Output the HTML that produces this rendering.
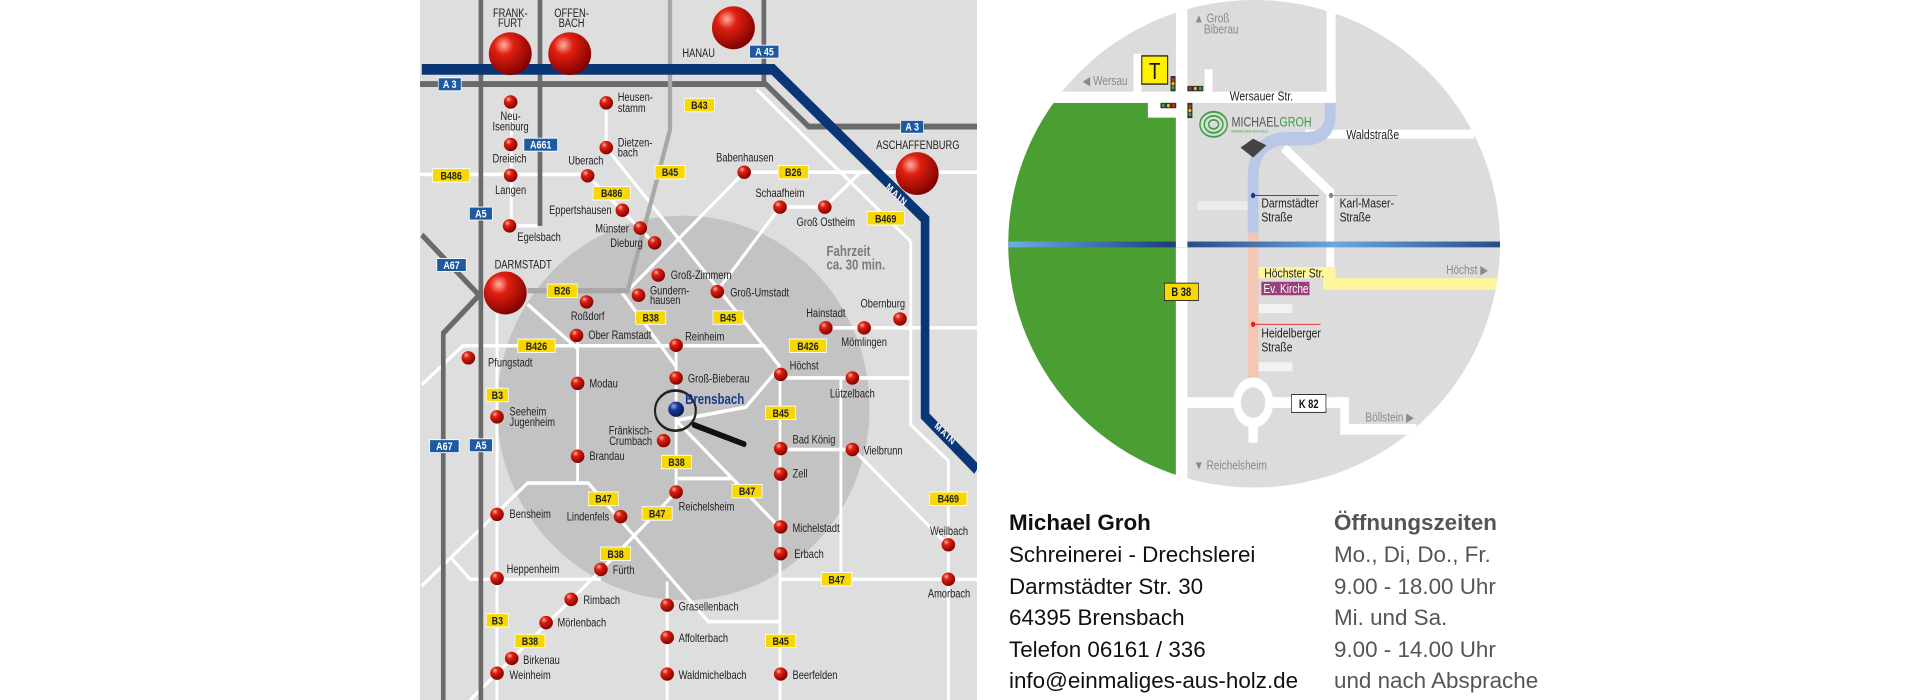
<!DOCTYPE html>
<html><head><meta charset="utf-8"><style>
html,body{margin:0;padding:0;background:#fff;width:1920px;height:700px;overflow:hidden}
.t{position:absolute;font-family:"Liberation Sans",sans-serif;font-size:22.4px;line-height:31.6px;white-space:nowrap}
</style></head><body>
<svg width="1920" height="700" style="position:absolute;left:0;top:0">
<defs>
<radialGradient id="rb" cx="0.35" cy="0.3" r="0.75"><stop offset="0" stop-color="#ffb0a0"/><stop offset="0.3" stop-color="#e02010"/><stop offset="1" stop-color="#7a0000"/></radialGradient>
<radialGradient id="bb" cx="0.35" cy="0.3" r="0.75"><stop offset="0" stop-color="#90a8ff"/><stop offset="0.35" stop-color="#1a3a9a"/><stop offset="1" stop-color="#05154a"/></radialGradient>
<linearGradient id="rv" x1="0" x2="1"><stop offset="0" stop-color="#6fb6e8"/><stop offset="0.3" stop-color="#1f3f80"/><stop offset="0.6" stop-color="#6aa8dc"/><stop offset="1" stop-color="#0c2d6a"/></linearGradient>
<clipPath id="cl"><ellipse cx="708" cy="545" rx="685" ry="545"/></clipPath>
</defs>
<svg x="420" y="0" width="557" height="700" viewBox="0 0 1555 1565" preserveAspectRatio="none" font-family="Liberation Sans, sans-serif">
<rect width="1555" height="1565" fill="#dedede"/>
<ellipse cx="735" cy="912" rx="520" ry="430" fill="#c3c3c3"/>
<g stroke="#fff" stroke-width="8" fill="none">
<path d="M0 390 H470"/><path d="M910 385 H1555"/>
<path d="M255 230 V505 H330"/><path d="M520 230 V330 L1005 820"/>
<path d="M468 393 L655 545"/>
<path d="M905 385 L580 650"/><path d="M1005 463 H1130 L1230 385"/><path d="M1005 463 L830 650"/>
<path d="M5 860 L120 773 H960 L1005 820"/><path d="M1130 733 H1555"/>
<path d="M440 750 V1080"/><path d="M715 770 V1100"/><path d="M560 650 L715 820"/>
<path d="M1005 820 V1565"/><path d="M215 700 V1565"/>
<path d="M1005 845 H1370"/><path d="M1370 540 V950 L1475 1030 V1565"/>
<path d="M1175 845 V1295"/><path d="M1005 1295 H1555"/>
<path d="M1005 1005 H1210 L1475 1220"/>
<path d="M300 680 L440 780"/><path d="M715 940 L1005 1180"/><path d="M720 1070 H870"/>
<path d="M715 1100 L505 1275 L140 1565"/>
<path d="M5 1310 L300 1080 H470 L805 1390 H1005"/>
<path d="M90 1250 L140 1295 H505"/><path d="M690 1300 V1565"/>
<path d="M715 940 L910 910 L1005 820"/><path d="M940 200 L1370 540"/>
</g>
<g stroke="#6a6a6a" stroke-width="13" fill="none">
<path d="M170 0 V1565"/><path d="M335 0 V505"/>
<path d="M5 525 L165 660 L65 745 V1565"/>
<path d="M0 188 H965 L1085 283 H1555"/><path d="M960 0 V188"/>
</g>
<g stroke="#a8a8a8" stroke-width="12" fill="none"><path d="M698 0 V290 L580 650 H300"/></g>
<path d="M5 155 H985 L1410 490 V930 L1555 1050" stroke="#0b3676" stroke-width="24" fill="none"/>
<g fill="#fff" font-size="22" font-weight="bold" letter-spacing="3"><text transform="translate(1300 420) rotate(38)">MAIN</text><text transform="translate(1435 955) rotate(38)">MAIN</text></g>
<g fill="url(#rb)">
<ellipse cx="252" cy="120" rx="60" ry="48"/><ellipse cx="418" cy="120" rx="60" ry="48"/><ellipse cx="875" cy="62" rx="60" ry="48"/><ellipse cx="1388" cy="388" rx="60" ry="48"/><ellipse cx="238" cy="655" rx="60" ry="48"/>
</g>
<g fill="url(#rb)">
<ellipse cx="253" cy="228" rx="19" ry="15"/><ellipse cx="253" cy="323" rx="19" ry="15"/><ellipse cx="253" cy="392" rx="19" ry="15"/><ellipse cx="250" cy="505" rx="19" ry="15"/><ellipse cx="520" cy="230" rx="19" ry="15"/><ellipse cx="520" cy="330" rx="19" ry="15"/><ellipse cx="468" cy="393" rx="19" ry="15"/><ellipse cx="565" cy="470" rx="19" ry="15"/><ellipse cx="615" cy="510" rx="19" ry="15"/><ellipse cx="655" cy="543" rx="19" ry="15"/><ellipse cx="905" cy="385" rx="19" ry="15"/><ellipse cx="1005" cy="463" rx="19" ry="15"/><ellipse cx="1130" cy="463" rx="19" ry="15"/><ellipse cx="665" cy="615" rx="19" ry="15"/><ellipse cx="610" cy="660" rx="19" ry="15"/><ellipse cx="830" cy="652" rx="19" ry="15"/><ellipse cx="465" cy="675" rx="19" ry="15"/><ellipse cx="437" cy="750" rx="19" ry="15"/><ellipse cx="715" cy="772" rx="19" ry="15"/><ellipse cx="1133" cy="733" rx="19" ry="15"/><ellipse cx="1240" cy="733" rx="19" ry="15"/><ellipse cx="1340" cy="713" rx="19" ry="15"/><ellipse cx="135" cy="800" rx="19" ry="15"/><ellipse cx="1007" cy="837" rx="19" ry="15"/><ellipse cx="1207" cy="845" rx="19" ry="15"/><ellipse cx="440" cy="857" rx="19" ry="15"/><ellipse cx="715" cy="845" rx="19" ry="15"/><ellipse cx="215" cy="932" rx="19" ry="15"/><ellipse cx="680" cy="985" rx="19" ry="15"/><ellipse cx="440" cy="1020" rx="19" ry="15"/><ellipse cx="1007" cy="1003" rx="19" ry="15"/><ellipse cx="1207" cy="1005" rx="19" ry="15"/><ellipse cx="1007" cy="1060" rx="19" ry="15"/><ellipse cx="715" cy="1100" rx="19" ry="15"/><ellipse cx="215" cy="1150" rx="19" ry="15"/><ellipse cx="560" cy="1155" rx="19" ry="15"/><ellipse cx="1007" cy="1178" rx="19" ry="15"/><ellipse cx="1475" cy="1218" rx="19" ry="15"/><ellipse cx="1007" cy="1238" rx="19" ry="15"/><ellipse cx="215" cy="1293" rx="19" ry="15"/><ellipse cx="505" cy="1273" rx="19" ry="15"/><ellipse cx="1475" cy="1295" rx="19" ry="15"/><ellipse cx="422" cy="1340" rx="19" ry="15"/><ellipse cx="690" cy="1353" rx="19" ry="15"/><ellipse cx="352" cy="1392" rx="19" ry="15"/><ellipse cx="690" cy="1425" rx="19" ry="15"/><ellipse cx="256" cy="1472" rx="19" ry="15"/><ellipse cx="215" cy="1505" rx="19" ry="15"/><ellipse cx="690" cy="1507" rx="19" ry="15"/><ellipse cx="1007" cy="1507" rx="19" ry="15"/>
</g>
<ellipse cx="715" cy="915" rx="22" ry="17" fill="url(#bb)"/>
<ellipse cx="713" cy="918" rx="57" ry="45" fill="none" stroke="#222" stroke-width="6"/>
<line x1="765" y1="950" x2="905" y2="993" stroke="#111" stroke-width="13" stroke-linecap="round"/>
<g font-size="26" fill="#222">
<g text-anchor="middle">
<text x="252" y="38">FRANK-</text><text x="252" y="60">FURT</text><text x="423" y="38">OFFEN-</text><text x="423" y="60">BACH</text>
<text x="778" y="127">HANAU</text><text x="1390" y="333">ASCHAFFENBURG</text><text x="288" y="600">DARMSTADT</text>
<text x="253" y="268">Neu-</text><text x="253" y="292">Isenburg</text><text x="250" y="363">Dreieich</text><text x="253" y="434">Langen</text>
<text x="463" y="368">Uberach</text><text x="907" y="361">Babenhausen</text><text x="1005" y="441">Schaafheim</text><text x="1133" y="505">Groß Ostheim</text>
<text x="468" y="716">Roßdorf</text><text x="1133" y="709">Hainstadt</text><text x="1240" y="774">Mömlingen</text><text x="1292" y="687">Obernburg</text>
<text x="1207" y="889">Lützelbach</text><text x="1477" y="1196">Weilbach</text><text x="1477" y="1336">Amorbach</text>
</g>
<g text-anchor="end"><text x="535" y="478">Eppertshausen</text><text x="583" y="520">Münster</text><text x="622" y="552">Dieburg</text><text x="648" y="971">Fränkisch-</text><text x="648" y="995">Crumbach</text><text x="528" y="1164">Lindenfels</text></g>
<text x="272" y="539">Egelsbach</text><text x="552" y="226">Heusen-</text><text x="552" y="250">stamm</text><text x="552" y="328">Dietzen-</text><text x="552" y="350">bach</text>
<text x="700" y="624">Groß-Zimmern</text><text x="642" y="658">Gundern-</text><text x="642" y="680">hausen</text><text x="866" y="663">Groß-Umstadt</text>
<text x="470" y="758">Ober Ramstadt</text><text x="740" y="761">Reinheim</text><text x="190" y="819">Pfungstadt</text><text x="1032" y="826">Höchst</text>
<text x="473" y="866">Modau</text><text x="748" y="855">Groß-Bieberau</text><text x="250" y="929">Seeheim</text><text x="250" y="953">Jugenheim</text>
<text x="473" y="1028">Brandau</text><text x="1040" y="992">Bad König</text><text x="1238" y="1016">Vielbrunn</text><text x="1040" y="1068">Zell</text>
<text x="722" y="1141">Reichelsheim</text><text x="250" y="1158">Bensheim</text><text x="1040" y="1189">Michelstadt</text><text x="1045" y="1247">Erbach</text>
<text x="242" y="1281">Heppenheim</text><text x="538" y="1283">Fürth</text><text x="456" y="1350">Rimbach</text><text x="722" y="1365">Grasellenbach</text>
<text x="384" y="1401">Mörlenbach</text><text x="722" y="1435">Affolterbach</text><text x="288" y="1484">Birkenau</text><text x="250" y="1518">Weinheim</text>
<text x="722" y="1518">Waldmichelbach</text><text x="1040" y="1518">Beerfelden</text>
</g>
<text x="740" y="903" font-size="32" font-weight="bold" fill="#1a3a8a">Brensbach</text>
<text x="1135" y="572" font-size="32" font-weight="bold" fill="#7a7a7a">Fahrzeit</text><text x="1135" y="602" font-size="32" font-weight="bold" fill="#7a7a7a">ca. 30 min.</text>
<g font-size="25" font-weight="bold" text-anchor="middle">
<g fill="#f7d800" stroke="#fff" stroke-width="2">
<rect x="738" y="220" width="84" height="30"/><rect x="35" y="377" width="104" height="30"/><rect x="483" y="417" width="104" height="30"/><rect x="656" y="370" width="84" height="30"/><rect x="1000" y="370" width="84" height="30"/><rect x="1248" y="473" width="104" height="30"/><rect x="355" y="635" width="84" height="30"/><rect x="602" y="695" width="84" height="30"/><rect x="818" y="695" width="84" height="30"/><rect x="273" y="758" width="104" height="30"/><rect x="1031" y="758" width="104" height="30"/><rect x="185" y="868" width="62" height="30"/><rect x="965" y="908" width="84" height="30"/><rect x="674" y="1018" width="84" height="30"/><rect x="871" y="1083" width="84" height="30"/><rect x="470" y="1100" width="84" height="30"/><rect x="620" y="1133" width="84" height="30"/><rect x="1423" y="1100" width="104" height="30"/><rect x="504" y="1223" width="84" height="30"/><rect x="1121" y="1280" width="84" height="30"/><rect x="185" y="1372" width="62" height="30"/><rect x="265" y="1418" width="84" height="30"/><rect x="965" y="1418" width="84" height="30"/>
</g>
<g fill="#222">
<text x="780" y="244">B43</text><text x="87" y="401">B486</text><text x="535" y="441">B486</text><text x="698" y="394">B45</text><text x="1042" y="394">B26</text><text x="1300" y="497">B469</text><text x="397" y="659">B26</text><text x="644" y="719">B38</text><text x="860" y="719">B45</text><text x="325" y="782">B426</text><text x="1083" y="782">B426</text><text x="216" y="892">B3</text><text x="1007" y="932">B45</text><text x="716" y="1042">B38</text><text x="913" y="1107">B47</text><text x="512" y="1124">B47</text><text x="662" y="1157">B47</text><text x="1475" y="1124">B469</text><text x="546" y="1247">B38</text><text x="1163" y="1304">B47</text><text x="216" y="1396">B3</text><text x="307" y="1442">B38</text><text x="1007" y="1442">B45</text>
</g>
<g fill="#1d5aa0" stroke="#fff" stroke-width="2">
<rect x="51" y="174" width="64" height="29"/><rect x="920" y="101" width="82" height="29"/><rect x="290" y="309" width="94" height="29"/><rect x="138" y="463" width="64" height="29"/><rect x="47" y="578" width="82" height="29"/><rect x="1342" y="269" width="64" height="29"/><rect x="27" y="983" width="82" height="29"/><rect x="138" y="981" width="64" height="29"/>
</g>
<g fill="#fff"><text x="83" y="197">A 3</text><text x="962" y="124">A 45</text><text x="337" y="332">A661</text><text x="170" y="486">A5</text><text x="88" y="601">A67</text><text x="1374" y="292">A 3</text><text x="68" y="1006">A67</text><text x="170" y="1004">A5</text></g>
</g>
</svg>
<svg x="1000" y="0" width="560" height="700" viewBox="0 0 1560 1565" preserveAspectRatio="none" font-family="Liberation Sans, sans-serif">
<g clip-path="url(#cl)">
<rect width="1560" height="1100" fill="#dcdcdc"/>
<rect x="0" y="230" width="490" height="870" fill="#4a9e32"/>
<rect x="490" y="0" width="32" height="1100" fill="#fff"/>
<rect x="150" y="205" width="785" height="25" fill="#fff"/>
<rect x="372" y="120" width="22" height="90" fill="#fff"/><rect x="570" y="155" width="22" height="55" fill="#fff"/>
<rect x="412" y="230" width="80" height="33" fill="#fff"/>
<rect x="910" y="0" width="25" height="230" fill="#fff"/>
<rect x="850" y="290" width="470" height="20" fill="#fff"/>
<path d="M790 330 L920 430 V600" stroke="#fff" stroke-width="22" fill="none"/>
<rect x="550" y="450" width="140" height="20" fill="#ececec"/>
<path d="M920 230 V255 Q920 310 850 310 H800 Q705 310 705 400 V520" stroke="#b9c8e6" stroke-width="30" fill="none"/>
<rect x="690" y="520" width="30" height="340" fill="#f3c6b6"/>
<rect x="720" y="680" width="95" height="20" fill="#f2f2f2"/><rect x="720" y="810" width="95" height="20" fill="#f2f2f2"/>
<rect x="522" y="888" width="440" height="24" fill="#fff"/>
<path d="M960 888 V960 H1160" stroke="#fff" stroke-width="24" fill="none"/>
<rect x="692" y="930" width="26" height="60" fill="#fff"/>
<circle cx="705" cy="900" r="45" fill="#dcdcdc" stroke="#fff" stroke-width="22"/>
<rect x="0" y="540" width="1560" height="13" fill="url(#rv)"/>
<rect x="490" y="540" width="32" height="13" fill="#fff"/>
<rect x="720" y="597" width="215" height="25" fill="#fff59a"/><rect x="900" y="622" width="485" height="26" fill="#fff59a"/>
</g>
<path d="M705 310 L670 330 L705 352 L742 325 Z" fill="#444"/>
<g fill="none" stroke="#3aa040" stroke-width="4"><ellipse cx="595" cy="278" rx="38" ry="28"/><ellipse cx="595" cy="278" rx="26" ry="19"/><ellipse cx="595" cy="278" rx="14" ry="10"/></g>
<text x="645" y="283" font-size="30" fill="#555">MICHAEL<tspan fill="#3aa040">GROH</tspan></text>
<text x="645" y="296" font-size="9" fill="#3aa040">EINMALIGES AUS HOLZ</text>
<rect x="395" y="125" width="72" height="63" fill="#fff000" stroke="#222" stroke-width="3"/>
<text x="431" y="177" font-size="52" text-anchor="middle" fill="#111">T</text>
<g fill="#333"><rect x="475" y="170" width="14" height="34"/><rect x="522" y="192" width="44" height="12"/><rect x="447" y="230" width="44" height="12"/><rect x="522" y="230" width="14" height="34"/></g>
<g><circle cx="482" cy="178" r="4" fill="#d22"/><circle cx="482" cy="187" r="4" fill="#ec0"/><circle cx="482" cy="196" r="4" fill="#3a3"/>
<circle cx="530" cy="198" r="4" fill="#d22"/><circle cx="544" cy="198" r="4" fill="#ec0"/><circle cx="558" cy="198" r="4" fill="#3a3"/>
<circle cx="455" cy="236" r="4" fill="#3a3"/><circle cx="469" cy="236" r="4" fill="#ec0"/><circle cx="483" cy="236" r="4" fill="#d22"/>
<circle cx="529" cy="238" r="4" fill="#d22"/><circle cx="529" cy="247" r="4" fill="#ec0"/><circle cx="529" cy="256" r="4" fill="#3a3"/></g>
<line x1="705" y1="437" x2="888" y2="437" stroke="#1a3a8a" stroke-width="2"/><circle cx="705" cy="437" r="6" fill="#1a3a8a"/>
<line x1="922" y1="437" x2="1108" y2="437" stroke="#999" stroke-width="2"/><circle cx="922" cy="437" r="6" fill="#888"/>
<line x1="705" y1="725" x2="893" y2="725" stroke="#d22" stroke-width="2"/><circle cx="705" cy="725" r="6" fill="#d22"/>
<rect x="728" y="630" width="134" height="30" fill="#9a3f7a"/>
<text x="734" y="655" font-size="28" fill="#fff">Ev. Kirche</text>
<rect x="458" y="633" width="95" height="39" fill="#f7d800" stroke="#222" stroke-width="2"/>
<text x="505" y="662" font-size="26" font-weight="bold" text-anchor="middle" fill="#111">B 38</text>
<rect x="812" y="882" width="96" height="40" fill="#fff" stroke="#222" stroke-width="2"/>
<text x="860" y="912" font-size="26" font-weight="bold" text-anchor="middle" fill="#111">K 82</text>
<g font-size="29" fill="#222">
<text x="640" y="225">Wersauer Str.</text><text x="965" y="311">Waldstraße</text>
<text x="728" y="464">Darmstädter</text><text x="728" y="495">Straße</text>
<text x="946" y="464">Karl-Maser-</text><text x="946" y="495">Straße</text>
<text x="736" y="620">Höchster Str.</text>
<text x="728" y="755">Heidelberger</text><text x="728" y="786">Straße</text>
</g>
<g font-size="28" fill="#8a8a8a">
<text x="540" y="50">▲ Groß</text><text x="568" y="75">Biberau</text>
<text x="230" y="190">◀  Wersau</text>
<text x="1243" y="613">Höchst ▶</text>
<text x="1018" y="942">Böllstein ▶</text>
<text x="540" y="1050">▼ Reichelsheim</text>
</g>
</svg>
</svg>
<div class="t" style="left:1009px;top:507px;color:#111;font-weight:bold">Michael Groh</div>
<div class="t" style="left:1009px;top:539px;color:#111">Schreinerei - Drechslerei<br>Darmstädter Str. 30<br>64395 Brensbach<br>Telefon 06161 / 336<br>info@einmaliges-aus-holz.de</div>
<div class="t" style="left:1334px;top:507px;color:#555;font-weight:bold">Öffnungszeiten</div>
<div class="t" style="left:1334px;top:539px;color:#555">Mo., Di, Do., Fr.<br>9.00 - 18.00 Uhr<br>Mi. und Sa.<br>9.00 - 14.00 Uhr<br>und nach Absprache</div>
</body></html>
